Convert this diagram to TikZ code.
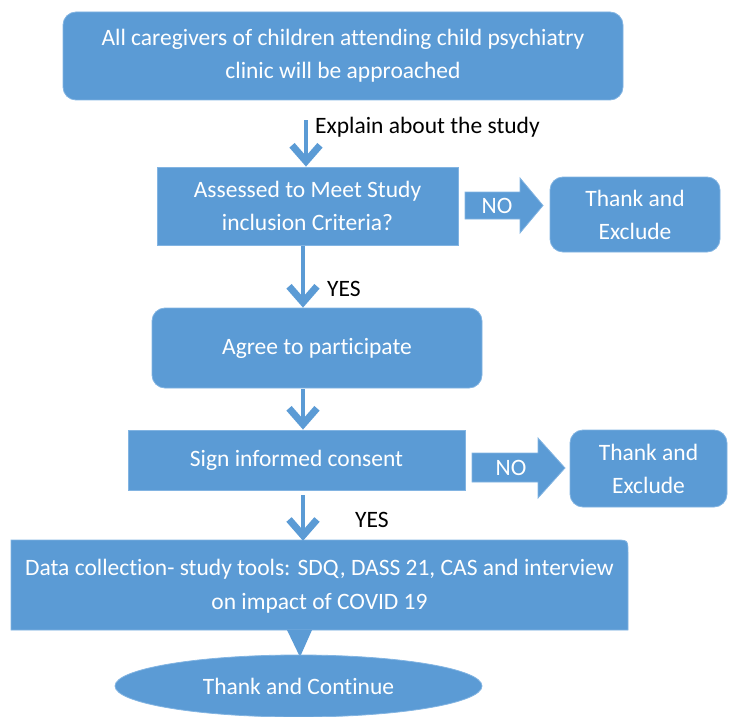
\documentclass[tikz,border=0pt]{standalone}
\usepackage{fontspec}
\setmainfont{Carlito}[Ligatures=NoCommon]
\usetikzlibrary{arrows.meta,shapes.geometric}
\definecolor{boxblue}{RGB}{91,155,213}
\definecolor{edgeblue}{RGB}{130,180,226}
\begin{document}
\begin{tikzpicture}[x=1pt,y=-1pt,
  box/.style={fill=boxblue, draw=edgeblue, line width=0.8pt, text=white, align=center,
    font=\fontsize{23.5}{33}\selectfont, inner sep=0pt},
  rbox/.style={box, rounded corners=13pt},
  thinarrow/.style={draw=boxblue, line width=4pt,
    -{Straight Barb[length=16pt,width=28pt,line width=7pt]}},
  blockarrow/.style={fill=boxblue, draw=edgeblue, line width=0.8pt},
  lbl/.style={font=\fontsize{23.5}{28}\selectfont, text=black, anchor=west, inner sep=0pt},
  nolbl/.style={font=\fontsize{23.5}{28}\selectfont, text=white, inner sep=0pt}]
\useasboundingbox (0,0) rectangle (729,717);

\node[rbox, minimum width=560, minimum height=88] (b1) at (343,56)
  {All caregivers of children attending child psychiatry\\clinic will be approached};
\node[box, minimum width=301, minimum height=78] (b2) at (307.5,206)
  {Assessed to Meet Study\\inclusion Criteria?};
\node[rbox, minimum width=170, minimum height=75] (e1) at (635,214.5) {Thank and\\Exclude};
\node[rbox, minimum width=330, minimum height=80] (b3) at (317,348) {Agree to participate};
\node[box, minimum width=337, minimum height=60] (b4) at (296.5,460) {Sign informed consent};
\node[rbox, minimum width=157, minimum height=77] (e2) at (648.5,468.5) {Thank and\\Exclude};

% data collection box: only the top right corner is rounded
\coordinate (b5sw) at (11,630);
\coordinate (b5ne) at (628,540);
\draw[fill=boxblue, draw=edgeblue, line width=0.8pt]
  (b5sw) -- (b5sw |- b5ne) -- ([xshift=-13pt]b5ne)
  .. controls (b5ne) .. ([yshift=-13pt]b5ne) -- (b5ne |- b5sw) -- cycle;
\node[text=white, align=center, font=\fontsize{23.5}{34}\selectfont, inner sep=0pt,
  minimum width=617, minimum height=90] (b5) at (319.5,586)
  {Data collection- study tools: SDQ, DASS 21, CAS and interview\\on impact of COVID 19};

% triangle pointing to the ellipse
\fill[boxblue] (287,630) -- (312,630) -- (300,657) -- cycle;
\node[ellipse, fill=boxblue, draw=edgeblue, line width=0.8pt, text=white, inner sep=0pt,
  minimum width=367, minimum height=62, font=\fontsize{23.5}{28}\selectfont] (b6) at (298.5,686)
  {Thank and Continue};

% thin arrows
\coordinate (xa) at (306,0);
\coordinate (xb) at (303,0);
\draw[thinarrow, shorten <=20pt] (b1.south -| xa) -- (b2.north -| xa);
\node[lbl] (l1) at (315,127) {Explain about the study};
\draw[thinarrow, shorten <=1pt] (b2.south -| xb) -- (b3.north -| xb);
\node[lbl] (l2) at (327,289) {YES};
\draw[thinarrow, shorten <=1pt] (b3.south -| xb) -- (b4.north -| xb);
\draw[thinarrow, shorten <=5pt] (b4.south -| xb) -- (b5.north -| xb);
\node[lbl] (l3) at (355,520) {YES};

% block arrows NO
\draw[blockarrow] (465,192) -- (520,192) -- (520,178) -- (543,205.5) -- (520,233) -- (520,219) -- (465,219) -- cycle;
\node[nolbl] (n1) at (497,206) {NO};
\draw[blockarrow] (472,453) -- (538,453) -- (538,438) -- (565,468) -- (538,498) -- (538,482) -- (472,482) -- cycle;
\node[nolbl] (n2) at (511,468) {NO};
\end{tikzpicture}
\end{document}
